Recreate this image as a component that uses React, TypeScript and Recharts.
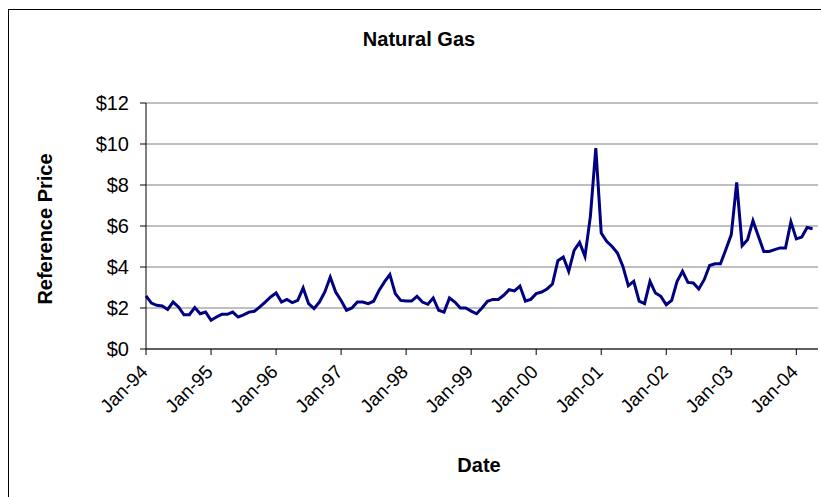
import { LineChart, Line, XAxis, YAxis, CartesianGrid } from 'recharts';

// monthly reference price, Jan-94 .. Apr-04
const prices = [
  2.59, 2.24, 2.13, 2.10, 1.93, 2.29, 2.05, 1.67, 1.67, 2.02, 1.72, 1.80,
  1.40, 1.56, 1.69, 1.69, 1.80, 1.56, 1.67, 1.80, 1.84, 2.05, 2.29, 2.54,
  2.73, 2.29, 2.42, 2.26, 2.37, 2.98, 2.21, 1.97, 2.29, 2.78, 3.51, 2.78,
  2.37, 1.89, 2.00, 2.29, 2.29, 2.21, 2.33, 2.86, 3.27, 3.63, 2.70, 2.37,
  2.34, 2.34, 2.57, 2.29, 2.18, 2.49, 1.89, 1.80, 2.49, 2.29, 2.00, 2.00,
  1.85, 1.72, 2.00, 2.33, 2.42, 2.42, 2.62, 2.89, 2.83, 3.07, 2.34, 2.42,
  2.70, 2.78, 2.93, 3.17, 4.31, 4.49, 3.79, 4.81, 5.20, 4.52, 6.47, 9.80,
  5.66, 5.25, 5.00, 4.68, 4.03, 3.09, 3.30, 2.33, 2.21, 3.30, 2.73, 2.57,
  2.16, 2.37, 3.30, 3.79, 3.25, 3.22, 2.93, 3.38, 4.07, 4.16, 4.16, 4.85,
  5.58, 8.13, 5.04, 5.33, 6.26, 5.50, 4.76, 4.76, 4.85, 4.93, 4.93, 6.20,
  5.37, 5.46, 5.93, 5.87,
];

const yearLabels = ['Jan-94', 'Jan-95', 'Jan-96', 'Jan-97', 'Jan-98', 'Jan-99', 'Jan-00', 'Jan-01', 'Jan-02', 'Jan-03', 'Jan-04'];
const yearTicks = [0, 12, 24, 36, 48, 60, 72, 84, 96, 108, 120];
const priceTicks = [0, 2, 4, 6, 8, 10, 12];

const data = prices.map((price, m) => ({ m, price }));

const FONT = 'Arial, "Liberation Sans", sans-serif';

function DateTick(props: any) {
  const { x, y, payload } = props;
  const idx = yearTicks.indexOf(payload.value);
  const ax = x + 3;
  const ay = y + 16;
  return (
    <text x={ax} y={ay} textAnchor="end" fontSize={19} fontFamily={FONT} fill="#000"
      transform={`rotate(-45, ${ax}, ${ay})`}>
      {yearLabels[idx]}
    </text>
  );
}

export default function App() {
  return (
    <div style={{ position: 'absolute', left: 0, top: 0, width: 821, height: 497, background: '#fff', overflow: 'hidden', fontFamily: FONT }}>
      <div style={{ position: 'absolute', left: 8, top: 9, width: 840, height: 520, border: '1px solid #000' }} />
      <div style={{ position: 'absolute', left: 0, top: 0 }}>
        <LineChart width={821} height={497} data={data} margin={{ top: 103, right: 3, bottom: 118, left: 0 }}>
          <CartesianGrid horizontal vertical={false} stroke="#808080" strokeWidth={1} />
          <XAxis
            dataKey="m"
            type="number"
            domain={[0, 124]}
            ticks={yearTicks}
            interval={0}
            height={30}
            stroke="#000"
            tickSize={6}
            tick={<DateTick />}
          />
          <YAxis
            domain={[0, 12]}
            ticks={priceTicks}
            width={146}
            stroke="#000"
            tickSize={6}
            tickMargin={11}
            tickFormatter={(v: number) => `$${v}`}
            tick={{ fontSize: 20, fontFamily: FONT, fill: '#000' }}
          />
          <Line type="linear" dataKey="price" stroke="#000080" strokeWidth={3} dot={false} isAnimationActive={false} />
        </LineChart>
      </div>
      <div style={{ position: 'absolute', left: 0, width: 838, top: 28, textAlign: 'center', fontSize: 20, fontWeight: 'bold' }}>
        Natural Gas
      </div>
      <div style={{ position: 'absolute', left: 0, width: 958, top: 454, textAlign: 'center', fontSize: 20, fontWeight: 'bold' }}>
        Date
      </div>
      <div style={{ position: 'absolute', left: 45, top: 229, transform: 'translate(-50%, -50%) rotate(-90deg)', whiteSpace: 'nowrap', fontSize: 20, fontWeight: 'bold' }}>
        Reference Price
      </div>
    </div>
  );
}
